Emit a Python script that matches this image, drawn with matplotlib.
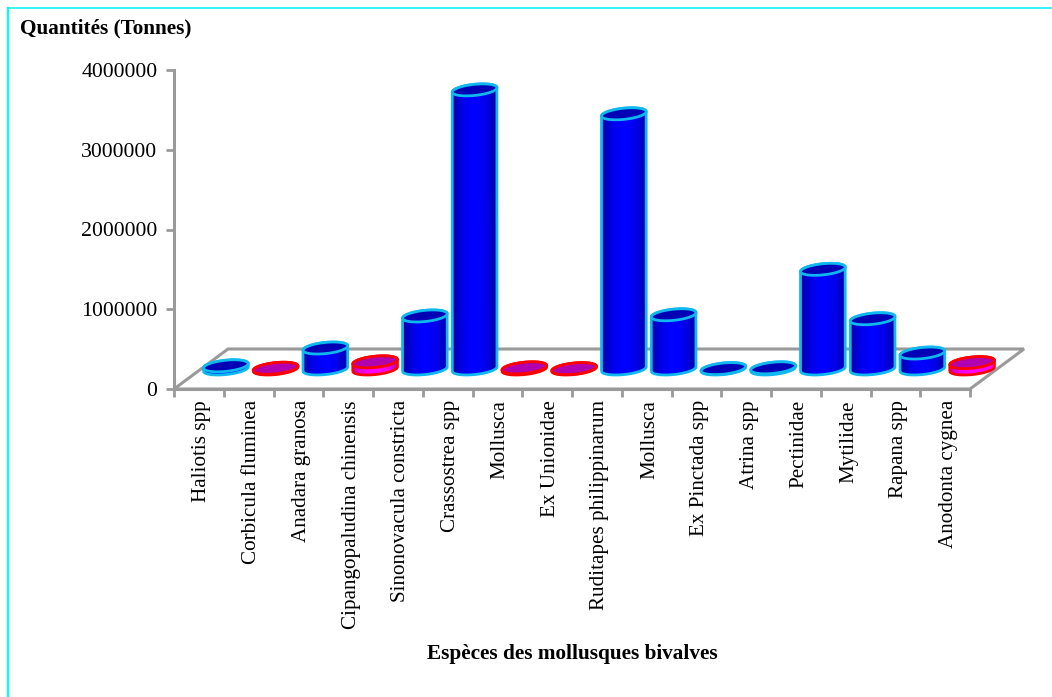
import numpy as np
import matplotlib
matplotlib.use("Agg")
import matplotlib.pyplot as plt
from matplotlib.patches import PathPatch, Polygon
from matplotlib.path import Path
from matplotlib.transforms import ScaledTranslation

W, H = 1052, 697

species = ["Haliotis spp", "Corbicula fluminea", "Anadara granosa",
           "Cipangopaludina chinensis", "Sinonovacula constricta",
           "Crassostrea spp", "Mollusca", "Ex Unionidae",
           "Ruditapes philippinarum", "Mollusca", "Ex Pinctada spp",
           "Atrina spp", "Pectinidae", "Mytilidae", "Rapana spp",
           "Anodonta cygnea"]
tonnes = [40000, 10000, 263000, 90000, 665000, 3500000, 15000, 5000,
          3200000, 680000, 5000, 15000, 1250000, 630000, 200000, 80000]
freshwater = [False, True, False, True, False, False, True, True,
              False, False, False, False, False, False, False, True]
y_ticks = [0, 1000000, 2000000, 3000000, 4000000]

plt.rcParams["font.family"] = ["Liberation Serif", "DejaVu Serif"]

fig = plt.figure(figsize=(W / 100, H / 100), dpi=100)
fig.patch.set_facecolor("white")

# Axes box: front edge of the floor and vertical value axis
left, right, top, bottom = 174, 970, 70, 389
ax = fig.add_axes([left / W, 1 - bottom / H, (right - left) / W, (bottom - top) / H])
ax.patch.set_alpha(0)

# Size of one pixel in data units, used for the oblique depth direction
n = len(species)
px = n / (right - left)
py = 4000000 / (bottom - top)
depth = np.array([54 * px, 40 * py])

AXIS = "#9a9a9a"
for name in ["top", "right"]:
    ax.spines[name].set_visible(False)
for name in ["left", "bottom"]:
    ax.spines[name].set_color(AXIS)
    ax.spines[name].set_linewidth(2.2)

# Oblique floor behind the columns
floor = Polygon([(0, 0), depth, (n + depth[0], depth[1]), (n, 0)], closed=True,
                fill=False, edgecolor=AXIS, linewidth=2.2, clip_on=False, zorder=1)
ax.add_patch(floor)

ax.set_xticks(np.arange(n + 1))
ax.set_xticks(np.arange(n) + 0.5, labels=species, minor=True, rotation=90,
              fontsize=15.2, color="black")
ax.set_xticklabels([])
ax.tick_params(axis="x", which="major", length=6, width=2, color=AXIS)
ax.tick_params(axis="x", which="minor", length=0, pad=8)
# Nudge the rotated labels to the right of their slot centres
nudge = ScaledTranslation(3 / 100, 0, fig.dpi_scale_trans)
for label in ax.get_xticklabels(minor=True):
    label.set_transform(label.get_transform() + nudge)
ax.set_yticks(y_ticks, labels=[str(v) for v in y_ticks])
ax.tick_params(axis="y", length=6, width=2, color=AXIS, labelsize=15.7, pad=6)

# Circular section of a column projected on the floor plane
ux = np.array([20.8 * px, 0.0])
uy = np.array([8.2 * px, 6.0 * py])
t0 = np.arctan2(uy[0], ux[0])
half_width = np.hypot(ux[0], uy[0])
shade = np.abs(np.linspace(-1, 1, 128))[None, :] ** 2.2


def section(cx, cy, t):
    return np.c_[cx + np.cos(t) * ux[0] + np.sin(t) * uy[0],
                 cy + np.cos(t) * ux[1] + np.sin(t) * uy[1]]


for i, (value, fresh) in enumerate(zip(tonnes, freshwater)):
    cx = i + 0.5 + depth[0] / 2
    cy0 = depth[1] / 2
    cy1 = cy0 + value
    edge = "#ff0000" if fresh else "#10b8f0"
    lit = np.array([1.0, 0.0, 1.0]) if fresh else np.array([0.0, 0.0, 1.0])
    dim = np.array([0.72, 0.0, 0.72]) if fresh else np.array([0.0, 0.0, 0.62])
    cap = "#b000b0" if fresh else "#0000b4"
    z = 3 + i * 0.01

    # Column silhouette: front of the base, back of the top section
    front = section(cx, cy0, np.linspace(t0 - np.pi, t0, 80))
    back = section(cx, cy1, np.linspace(t0, t0 + np.pi, 80))
    verts = np.r_[front, back, front[:1]]
    body = PathPatch(Path(verts), facecolor=lit, edgecolor="none",
                     clip_on=False, zorder=z)
    ax.add_patch(body)

    # Horizontal shading across the column, clipped to the silhouette
    grad = lit[None, None, :] + (dim - lit)[None, None, :] * shade[:, :, None]
    im = ax.imshow(np.repeat(grad, 4, axis=0),
                   extent=(cx - half_width, cx + half_width,
                           cy0 - 8 * py, cy1 + 8 * py),
                   aspect="auto", interpolation="bilinear", zorder=z + 0.001)
    im.set_clip_path(body)

    ax.add_patch(PathPatch(Path(verts), facecolor="none", edgecolor=edge,
                           linewidth=2.0, clip_on=False, zorder=z + 0.002))
    ring = section(cx, cy1, np.linspace(0, 2 * np.pi, 121))
    ax.fill(ring[:, 0], ring[:, 1], facecolor=cap, edgecolor=edge, linewidth=2.0,
            clip_on=False, zorder=z + 0.004)

ax.set_xlim(0, n)
ax.set_ylim(0, 4000000)

# Titles placed in figure space
fig.text(20 / W, 1 - 28 / H, "Quantités (Tonnes)", fontsize=15.3, fontweight="bold",
         ha="left", va="center")
fig.text(572 / W, 1 - 654 / H, "Espèces des mollusques bivalves", fontsize=15.3,
         fontweight="bold", ha="center", va="center")

# Thin cyan frame along the top and left edges
fig.add_artist(plt.Line2D([8 / W, 8 / W], [0, 1 - 8 / H], color="#00ffff", linewidth=1.6))
fig.add_artist(plt.Line2D([8 / W, 1], [1 - 8 / H, 1 - 8 / H], color="#00f0f0", linewidth=1.1))

fig.savefig("out.png", dpi=100)
